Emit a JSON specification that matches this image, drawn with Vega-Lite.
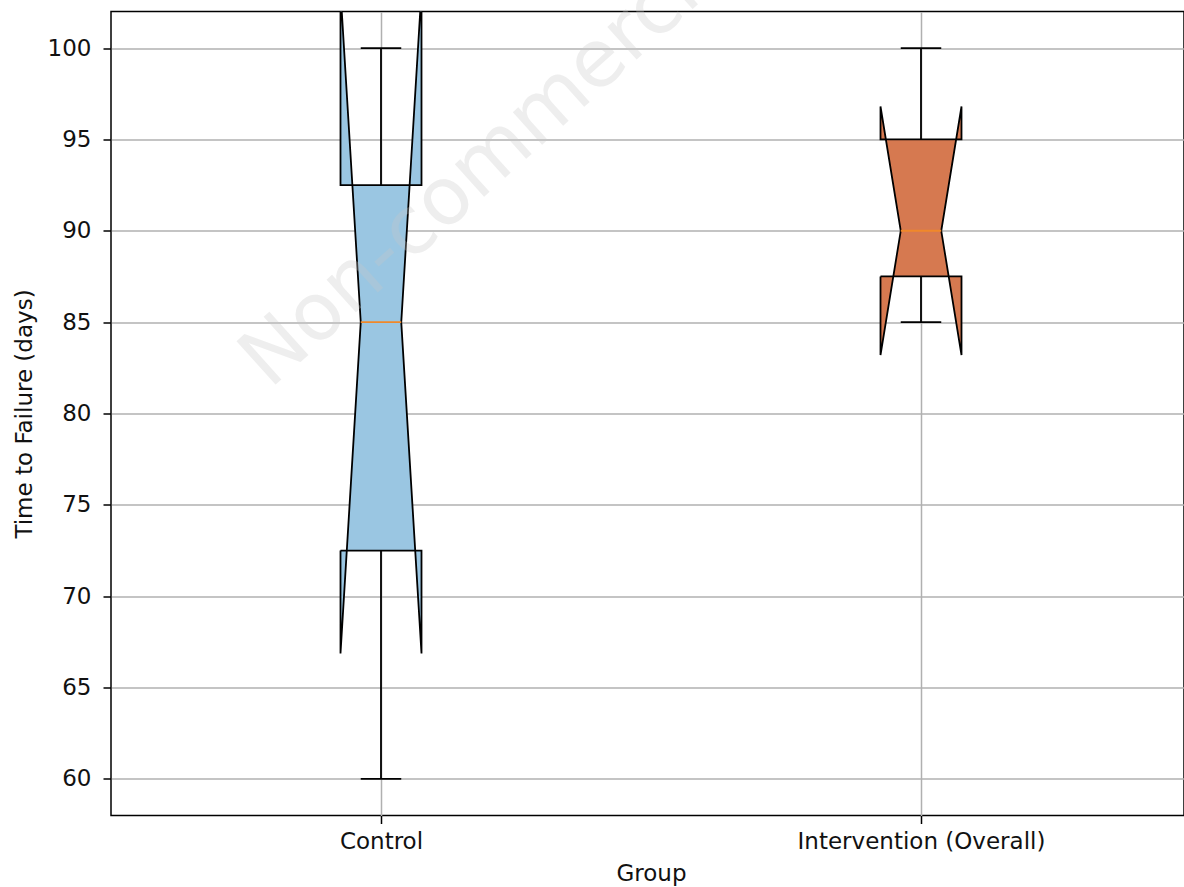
{
  "$schema": "https://vega.github.io/schema/vega-lite/v6.json",
  "width": 1073,
  "height": 804,
  "autosize": {"type": "none"},
  "padding": {"left": 111, "top": 11.5, "right": 0, "bottom": 71.5},
  "background": "white",
  "config": {
    "view": {"stroke": "black", "strokeWidth": 1.5},
    "font": "DejaVu Sans",
    "axis": {
      "labelFont": "DejaVu Sans",
      "titleFont": "DejaVu Sans",
      "labelFontSize": 23,
      "titleFontSize": 23,
      "titleFontWeight": "normal",
      "labelColor": "#111111",
      "titleColor": "#111111",
      "labelLimit": 0,
      "domain": false,
      "tickColor": "black",
      "tickWidth": 1.5,
      "tickSize": 8,
      "gridColor": "#b0b0b0",
      "gridWidth": 1.5,
      "gridOpacity": 1
    }
  },
  "datasets": {
    "outline": [
      {"group": "Control", "k": 1, "x": 0.925, "y": 72.5},
      {"group": "Control", "k": 2, "x": 1.075, "y": 72.5},
      {"group": "Control", "k": 3, "x": 1.075, "y": 66.87},
      {"group": "Control", "k": 4, "x": 1.0375, "y": 85},
      {"group": "Control", "k": 5, "x": 1.075, "y": 103.13},
      {"group": "Control", "k": 6, "x": 1.075, "y": 92.5},
      {"group": "Control", "k": 7, "x": 0.925, "y": 92.5},
      {"group": "Control", "k": 8, "x": 0.925, "y": 103.13},
      {"group": "Control", "k": 9, "x": 0.9625, "y": 85},
      {"group": "Control", "k": 10, "x": 0.925, "y": 66.87},
      {"group": "Control", "k": 11, "x": 0.925, "y": 72.5},
      {"group": "Intervention (Overall)", "k": 1, "x": 1.925, "y": 87.5},
      {"group": "Intervention (Overall)", "k": 2, "x": 2.075, "y": 87.5},
      {"group": "Intervention (Overall)", "k": 3, "x": 2.075, "y": 83.2},
      {"group": "Intervention (Overall)", "k": 4, "x": 2.0375, "y": 90},
      {"group": "Intervention (Overall)", "k": 5, "x": 2.075, "y": 96.8},
      {"group": "Intervention (Overall)", "k": 6, "x": 2.075, "y": 95},
      {"group": "Intervention (Overall)", "k": 7, "x": 1.925, "y": 95},
      {"group": "Intervention (Overall)", "k": 8, "x": 1.925, "y": 96.8},
      {"group": "Intervention (Overall)", "k": 9, "x": 1.9625, "y": 90},
      {"group": "Intervention (Overall)", "k": 10, "x": 1.925, "y": 83.2},
      {"group": "Intervention (Overall)", "k": 11, "x": 1.925, "y": 87.5}
    ],
    "stats": [
      {"group": "Control", "pos": 1, "wlo": 60, "q1": 72.5, "med": 85, "q3": 92.5, "whi": 100},
      {"group": "Intervention (Overall)", "pos": 2, "wlo": 85, "q1": 87.5, "med": 90, "q3": 95, "whi": 100}
    ],
    "watermark": [
      {"label": "Non-commercial", "x": 0.794, "y": 81.3}
    ]
  },
  "layer": [
    {
      "data": {"name": "outline"},
      "transform": [{"filter": "datum.group === 'Control'"}],
      "mark": {"type": "line", "fill": "#9ac6e2", "stroke": "black", "strokeWidth": 1.8, "clip": true, "strokeJoin": "miter"},
      "encoding": {
        "x": {
          "field": "x", "type": "quantitative", "title": "Group",
          "scale": {"domain": [0.5, 2.48704], "nice": false, "zero": false},
          "axis": {
            "values": [1, 2],
            "labelExpr": "datum.value === 1 ? 'Control' : 'Intervention (Overall)'",
            "grid": true,
            "labelPadding": 7,
            "titlePadding": 9,
            "titleX": 540,
            "labelFlush": false,
            "labelOverlap": false
          }
        },
        "y": {
          "field": "y", "type": "quantitative", "title": "Time to Failure (days)",
          "scale": {"domain": [58, 102], "nice": false, "zero": false},
          "axis": {
            "values": [60, 65, 70, 75, 80, 85, 90, 95, 100],
            "grid": true,
            "labelPadding": 12,
            "titlePadding": 11
          }
        },
        "order": {"field": "k", "type": "quantitative"}
      }
    },
    {
      "data": {"name": "outline"},
      "transform": [{"filter": "datum.group === 'Intervention (Overall)'"}],
      "mark": {"type": "line", "fill": "#d67950", "stroke": "black", "strokeWidth": 1.8, "clip": true, "strokeJoin": "miter"},
      "encoding": {
        "x": {"field": "x", "type": "quantitative", "title": "Group"},
        "y": {"field": "y", "type": "quantitative", "title": "Time to Failure (days)"},
        "order": {"field": "k", "type": "quantitative"}
      }
    },
    {
      "data": {"name": "stats"},
      "mark": {"type": "rule", "color": "black", "strokeWidth": 1.8},
      "encoding": {
        "x": {"field": "pos", "type": "quantitative", "title": "Group"},
        "y": {"field": "wlo", "type": "quantitative", "title": "Time to Failure (days)"},
        "y2": {"field": "q1"}
      }
    },
    {
      "data": {"name": "stats"},
      "mark": {"type": "rule", "color": "black", "strokeWidth": 1.8},
      "encoding": {
        "x": {"field": "pos", "type": "quantitative", "title": "Group"},
        "y": {"field": "q3", "type": "quantitative", "title": "Time to Failure (days)"},
        "y2": {"field": "whi"}
      }
    },
    {
      "data": {"name": "stats"},
      "mark": {"type": "tick", "orient": "horizontal", "color": "black", "opacity": 1, "size": 40.5, "thickness": 1.8},
      "encoding": {
        "x": {"field": "pos", "type": "quantitative", "title": "Group"},
        "y": {"field": "wlo", "type": "quantitative", "title": "Time to Failure (days)"}
      }
    },
    {
      "data": {"name": "stats"},
      "mark": {"type": "tick", "orient": "horizontal", "color": "black", "opacity": 1, "size": 40.5, "thickness": 1.8},
      "encoding": {
        "x": {"field": "pos", "type": "quantitative", "title": "Group"},
        "y": {"field": "whi", "type": "quantitative", "title": "Time to Failure (days)"}
      }
    },
    {
      "data": {"name": "stats"},
      "mark": {"type": "tick", "orient": "horizontal", "color": "#f0882a", "opacity": 1, "size": 40.5, "thickness": 1.8},
      "encoding": {
        "x": {"field": "pos", "type": "quantitative", "title": "Group"},
        "y": {"field": "med", "type": "quantitative", "title": "Time to Failure (days)"}
      }
    },
    {
      "data": {"name": "watermark"},
      "mark": {"type": "text", "angle": -42, "fontSize": 80, "font": "DejaVu Sans", "align": "left", "baseline": "alphabetic", "fill": "#c8c8c8", "opacity": 0.3},
      "encoding": {
        "x": {"field": "x", "type": "quantitative", "title": "Group"},
        "y": {"field": "y", "type": "quantitative", "title": "Time to Failure (days)"},
        "text": {"field": "label"}
      }
    }
  ]
}
